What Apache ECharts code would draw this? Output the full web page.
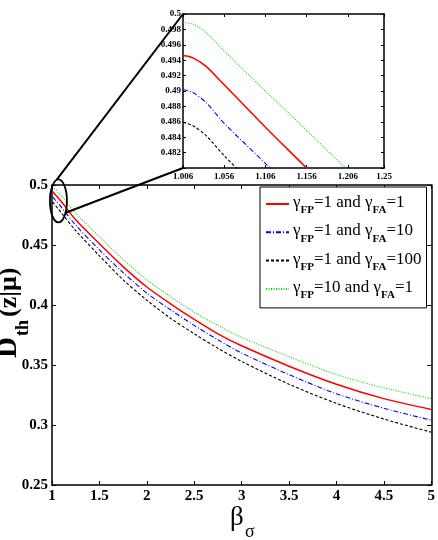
<!DOCTYPE html>
<html>
<head>
<meta charset="utf-8">
<script src="https://cdn.jsdelivr.net/npm/echarts@6/dist/echarts.min.js"></script>
<style>html,body{margin:0;padding:0;background:#fff}#c{width:438px;height:540px}</style>
</head>
<body>
<div id="c"></div>
<script>
// ---- data ----
const mainX   = [1.006, 1.1, 1.25, 1.5, 1.75, 2, 2.25, 2.5, 2.75, 3, 3.5, 4, 4.5, 5];
const redMain   = [0.4946, 0.4860, 0.4710, 0.4510, 0.4320, 0.4150, 0.4010, 0.3880, 0.3760, 0.3660, 0.3490, 0.3340, 0.3220, 0.3130];
const blueMain  = [0.4902, 0.4813, 0.4665, 0.4460, 0.4270, 0.4100, 0.3960, 0.3830, 0.3710, 0.3600, 0.3420, 0.3260, 0.3140, 0.3040];
const blackMain = [0.4859, 0.4767, 0.4620, 0.4410, 0.4210, 0.4040, 0.3890, 0.3760, 0.3640, 0.3530, 0.3340, 0.3180, 0.3050, 0.2940];
const greenMain = [0.4989, 0.4907, 0.4765, 0.4570, 0.4380, 0.4210, 0.4070, 0.3940, 0.3830, 0.3730, 0.3570, 0.3420, 0.3310, 0.3220];

const insetX     = [1.006, 1.018, 1.034, 1.056, 1.106, 1.156, 1.206, 1.25];
const redInset   = [0.4946, 0.4943, 0.4932, 0.4908, 0.4853, 0.4800, 0.4746, 0.4700];
const blueInset  = [0.4902, 0.4898, 0.4885, 0.4858, 0.4806, 0.4754, 0.4703, 0.4660];
const blackInset = [0.4859, 0.4855, 0.4842, 0.4816, 0.4763, 0.4710, 0.4660, 0.4620];
const greenInset = [0.4989, 0.4987, 0.4976, 0.4952, 0.4900, 0.4849, 0.4797, 0.4753];

const insetXTicks = [1.006, 1.056, 1.106, 1.156, 1.206, 1.25];
const legendNames = ['s1', 's2', 's3', 's4'];
const legendText = {
  s1: '{g|γ}{s|FP}{t|=1 and }{g|γ}{s|FA}{t|=1}',
  s2: '{g|γ}{s|FP}{t|=1 and }{g|γ}{s|FA}{t|=10}',
  s3: '{g|γ}{s|FP}{t|=1 and }{g|γ}{s|FA}{t|=100}',
  s4: '{g|γ}{s|FP}{t|=10 and }{g|γ}{s|FA}{t|=1}'
};

// ---- chart ----
const SERIF = '"Liberation Serif", "Times New Roman", serif';
const pair = (xs, ys) => xs.map((x, i) => [x, ys[i]]);
const chart = echarts.init(document.getElementById('c'), null, {renderer: 'canvas'});

const tickIn = {show: true, inside: true, length: 4, lineStyle: {color: '#000', width: 1}};
const axLine = {show: true, onZero: false, lineStyle: {color: '#000', width: 1.5}};
const mainLbl = {color: '#000', fontFamily: SERIF, fontWeight: 'bold', fontSize: 15};
const insLbl = {color: '#000', fontFamily: SERIF, fontWeight: 'bold', fontSize: 9};

const styles = {
  red:   {color: '#ff0000', width: 1.5, type: 'solid'},
  blue:  {color: '#0000ff', width: 1.1, type: [5, 2, 1, 2]},
  black: {color: '#000000', width: 1.1, type: [3, 2]},
  green: {color: '#00dd00', width: 1.1, type: [1, 1.5]}
};

function mk(name, data, st, xi, yi, z, sm) {
  return {
    name: name, type: 'line', data: data, xAxisIndex: xi, yAxisIndex: yi,
    showSymbol: false, symbol: 'none', smooth: sm, clip: true, z: z || 2,
    lineStyle: {color: st.color, width: st.width, type: st.type},
    itemStyle: {color: st.color}, animation: false
  };
}

const option = {
  backgroundColor: '#fff',
  animation: false,
  grid: [
    {left: 52, top: 185, right: 6, bottom: 55, containLabel: false},
    {left: 183, top: 14, right: 54, bottom: 372, containLabel: false, show: true, backgroundColor: '#fff', borderWidth: 0, z: 5}
  ],
  xAxis: [
    {type: 'value', gridIndex: 0, min: 1, max: 5, interval: 0.5, position: 'bottom',
     axisLine: axLine, axisTick: tickIn, splitLine: {show: false},
     axisLabel: Object.assign({margin: 4}, mainLbl)},
    {type: 'value', gridIndex: 0, min: 1, max: 5, interval: 0.5, position: 'top',
     axisLine: axLine, axisTick: tickIn, splitLine: {show: false}, axisLabel: {show: false}},
    {type: 'value', gridIndex: 1, min: 1.006, max: 1.25, position: 'bottom', z: 6,
     axisLine: axLine, splitLine: {show: false},
     axisTick: Object.assign({customValues: insetXTicks}, tickIn, {length: 3}),
     axisLabel: Object.assign({margin: 4, customValues: insetXTicks, formatter: v => String(+(+v).toFixed(3))}, insLbl)},
    {type: 'value', gridIndex: 1, min: 1.006, max: 1.25, position: 'top', z: 6,
     axisLine: axLine, splitLine: {show: false},
     axisTick: Object.assign({customValues: insetXTicks}, tickIn, {length: 3}),
     axisLabel: {show: false}}
  ],
  yAxis: [
    {type: 'value', gridIndex: 0, min: 0.25, max: 0.5, interval: 0.05, position: 'left',
     axisLine: axLine, axisTick: tickIn, splitLine: {show: false},
     axisLabel: Object.assign({margin: 4}, mainLbl)},
    {type: 'value', gridIndex: 0, min: 0.25, max: 0.5, interval: 0.05, position: 'right',
     axisLine: axLine, axisTick: tickIn, splitLine: {show: false}, axisLabel: {show: false}},
    {type: 'value', gridIndex: 1, min: 0.48, max: 0.5, interval: 0.002, position: 'left', z: 6,
     axisLine: axLine, axisTick: Object.assign({}, tickIn, {length: 3}), splitLine: {show: false},
     axisLabel: Object.assign({margin: 2, formatter: v => (Math.abs(v - 0.48) < 1e-9 ? '' : String(+(+v).toFixed(3)))}, insLbl)},
    {type: 'value', gridIndex: 1, min: 0.48, max: 0.5, interval: 0.002, position: 'right', z: 6,
     axisLine: axLine, axisTick: Object.assign({}, tickIn, {length: 3}), splitLine: {show: false}, axisLabel: {show: false}}
  ],
  legend: {
    data: legendNames, orient: 'vertical', left: 260, top: 187,
    padding: [7, 5, 7, 5], itemGap: 6.3, itemWidth: 23, itemHeight: 14,
    backgroundColor: '#fff', borderColor: '#000', borderWidth: 1, borderRadius: 0,
    z: 10, selectedMode: false,
    itemStyle: {color: 'rgba(0,0,0,0)', borderWidth: 0, opacity: 0},
    formatter: n => legendText[n],
    textStyle: {
      color: '#000', padding: [0, 0, 0, -1],
      rich: {
        g: {fontFamily: SERIF, fontSize: 17, lineHeight: 20, verticalAlign: 'top', color: '#000'},
        t: {fontFamily: SERIF, fontSize: 17, lineHeight: 20, verticalAlign: 'top', color: '#000'},
        s: {fontFamily: SERIF, fontSize: 11, fontWeight: 'bold', lineHeight: 11, padding: [11, 0, 0, 0], verticalAlign: 'top', color: '#000'}
      }
    }
  },
  series: [
    mk('s1', pair(mainX, redMain), styles.red, 0, 0, 3, 0.3),
    mk('s2', pair(mainX, blueMain), styles.blue, 0, 0, 2, 0.3),
    mk('s3', pair(mainX, blackMain), styles.black, 0, 0, 2, 0.3),
    mk('s4', pair(mainX, greenMain), styles.green, 0, 0, 2, 0.3),
    mk('i1', pair(insetX, redInset), styles.red, 2, 2, 7, 0.3),
    mk('i2', pair(insetX, blueInset), styles.blue, 2, 2, 7, 0.3),
    mk('i3', pair(insetX, blackInset), styles.black, 2, 2, 7, 0.3),
    mk('i4', pair(insetX, greenInset), styles.green, 2, 2, 7, 0.3)
  ]
};
chart.setOption(option);

// annotations: ellipse + connector lines + axis titles
const ec = chart.convertToPixel({gridIndex: 0}, [1.068, 0.4867]);
const tl = chart.convertToPixel({gridIndex: 1}, [1.006, 0.5]);
const bl = chart.convertToPixel({gridIndex: 1}, [1.006, 0.48]);
const rx = 8.5, ry = 21.5;
const blk = {stroke: '#000', lineWidth: 2, fill: null};
chart.setOption({
  graphic: [
    {type: 'ellipse', z: 20, shape: {cx: ec[0], cy: ec[1], rx: rx, ry: ry}, style: {stroke: '#000', lineWidth: 1.8, fill: null}},
    {type: 'line', z: 20, shape: {x1: ec[0] - 1.5, y1: ec[1] - ry, x2: tl[0], y2: tl[1]}, style: blk},
    {type: 'line', z: 20, shape: {x1: ec[0] + 6.5, y1: ec[1] + 12, x2: bl[0], y2: bl[1]}, style: blk},
    {type: 'group', x: 0, y: 358, rotation: Math.PI / 2, z: 20, children: [
      {type: 'text', x: 0, y: 9, style: {text: 'D', font: 'bold 29px ' + SERIF, fill: '#000', textAlign: 'left', textVerticalAlign: 'middle', verticalAlign: 'middle'}},
      {type: 'text', x: 22, y: 23, style: {text: 'th', font: 'bold 18px ' + SERIF, fill: '#000', textAlign: 'left', textVerticalAlign: 'middle', verticalAlign: 'middle'}},
      {type: 'text', x: 41, y: 9, style: {text: '(z|μ)', font: 'bold 26px ' + SERIF, fill: '#000', textAlign: 'left', textVerticalAlign: 'middle', verticalAlign: 'middle'}}
    ]},
    {type: 'text', z: 20, x: 230, y: 518, style: {text: 'β', font: '27px ' + SERIF, fill: '#000', textAlign: 'left', verticalAlign: 'middle', textVerticalAlign: 'middle'}},
    {type: 'text', z: 20, x: 245, y: 532, style: {text: 'σ', font: '18px ' + SERIF, fill: '#000', textAlign: 'left', verticalAlign: 'middle', textVerticalAlign: 'middle'}}
  ]
});
</script>
</body>
</html>
